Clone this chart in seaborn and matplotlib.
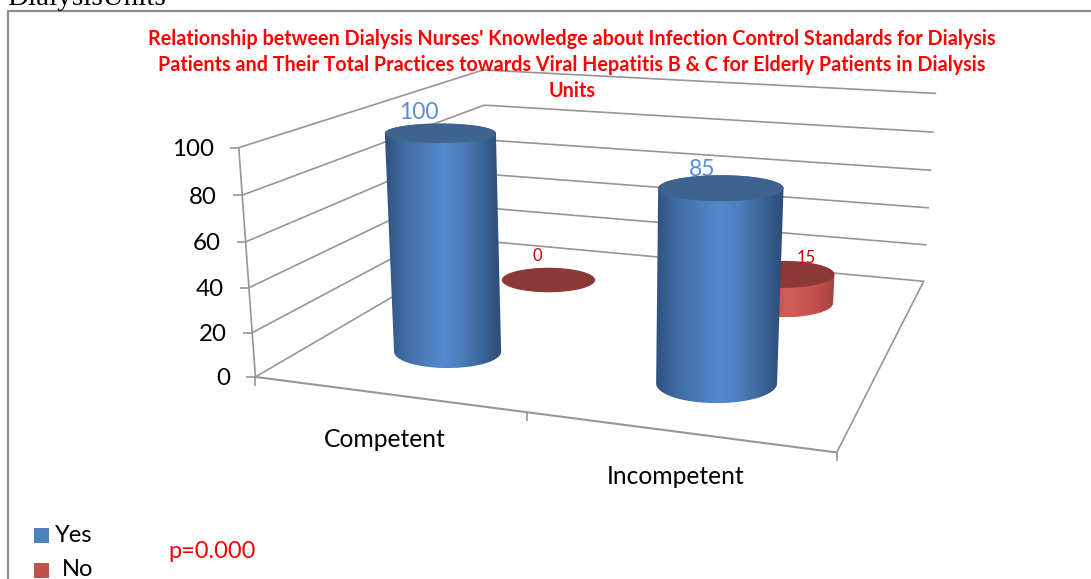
import numpy as np
import pandas as pd
import matplotlib
matplotlib.use("Agg")
import matplotlib.pyplot as plt
from matplotlib.colors import LinearSegmentedColormap
from matplotlib.patches import Rectangle, Polygon, Ellipse
import seaborn as sns

categories = ["Competent", "Incompetent"]
series_names = ["Yes", "No"]
yes_values = [100, 85]
no_values = [0, 15]
value_ticks = [0, 20, 40, 60, 80, 100]
title_lines = ["Relationship between Dialysis Nurses' Knowledge about Infection Control Standards for Dialysis",
               "Patients and Their Total Practices towards Viral Hepatitis B & C for Elderly Patients in Dialysis",
               "Units"]

sns.set_theme(style="white")
plt.rcParams["font.family"] = ["Lato", "DejaVu Sans"]

fig = plt.figure(figsize=(10.91, 5.79), dpi=100)
ax = fig.add_axes([0, 0, 1, 1])
ax.set_xlim(0, 1091)
ax.set_ylim(579, 0)
ax.axis("off")

# camera calibration: box corners (u across, v depth, w value) -> picture position
world = np.array([[0, 0, 0], [0, 0, 100], [1, 0, 0], [0, 1, 0], [0, 1, 100], [1, 1, 0], [1, 1, 100]], float)
image = np.array([[254, 377], [240, 148], [837, 452], [489, 241], [482, 70], [923, 282], [936, 93]], float)
A, b = [], []
for (X, Y, Z), (x, y) in zip(world, image):
    A.append([X, Y, Z, 1, 0, 0, 0, 0, -x*X, -x*Y, -x*Z]); b.append(x)
    A.append([0, 0, 0, 0, X, Y, Z, 1, -y*X, -y*Y, -y*Z]); b.append(y)
p = np.linalg.lstsq(np.array(A), np.array(b), rcond=None)[0]
P = np.append(p, 1).reshape(3, 4)


def proj(u, v, w):
    q = P @ np.array([u, v, w, 1.0])
    return q[0] / q[2], q[1] / q[2]


GRID = "#969696"
rows = []
for t in value_ticks:
    for k, (u, v) in enumerate([(0, 0), (0, 1), (1, 1)]):
        x, y = proj(u, v, t)
        rows.append({"tick": t, "order": k, "px": x, "py": y})
grid = pd.DataFrame(rows)
sns.lineplot(data=grid, x="px", y="py", units="tick", estimator=None, sort=False,
             color=GRID, lw=1.2, ax=ax, legend=False, zorder=1)
ax.set_xlim(0, 1091)
ax.set_ylim(579, 0)
ax.axis("off")


def seg(a, c, lw=1.2, color=GRID):
    ax.plot([a[0], c[0]], [a[1], c[1]], color=color, lw=lw, zorder=1, solid_capstyle="butt")


seg(proj(0, 0, 0), proj(0, 0, 100))
seg(proj(0, 0, 0), proj(1, 0, 0), lw=1.5)
seg(proj(1, 0, 0), proj(1, 1, 0))
for t in value_ticks:
    x, y = proj(0, 0, t)
    seg((x - 9, y), (x, y))
    ax.text(x - 25, y + 2, str(t), ha="right", va="center", fontsize=17.4, color="black")
for u in [0, 0.5, 1]:
    x, y = proj(u, 0, 0)
    seg((x, y), (x, y + 9))

# frame and caption fragment above it
ax.plot([7.5, 7.5, 1091], [579, 11, 11], color="#8c8c8c", lw=1.6, zorder=1)
ax.text(7, 5, "DialysisUnits", family="Liberation Serif", fontsize=21, ha="left", va="baseline", color="black")

for line, y in zip(title_lines, [39, 65, 91]):
    ax.text(572, y, line, ha="center", va="center", color="#ff0000", fontsize=14.2, fontweight="bold", zorder=6)

U_POS = [0.252, 0.752]
V_POS = {"Yes": 0.235, "No": 0.74}
R = 0.105
blue = LinearSegmentedColormap.from_list("b", ["#2f5280", "#3f6da3", "#4c7cb8", "#558ad0", "#4c7db9", "#3a6496", "#2c4c74"])
red = LinearSegmentedColormap.from_list("r", ["#8e3a38", "#b84d4a", "#cc5753", "#d05a56", "#c4524f", "#a5423f"])
TOPS = {"Yes": "#3e638f", "No": "#8c3836"}


def ell(u, v, w):
    cx, cy = proj(u, v, w)
    xa, ya = proj(u - 0.02, v, w)
    xb, yb = proj(u + 0.02, v, w)
    a = R * np.hypot(xb - xa, yb - ya) / 0.04
    r = 0.174 + (cy - 132) * 0.0006
    return cx, cy, a, a * r


def cylinder(u, v, val, name, cmap, z):
    xb, yb, ab, bb = ell(u, v, 0)
    xt, yt, at, bt = ell(u, v, val)
    if val > 0:
        th = np.linspace(0, np.pi, 60)
        low = np.c_[xb - ab * np.cos(th), yb + bb * np.sin(th)]
        up = np.c_[xt + at * np.cos(th), yt - bt * np.sin(th)]
        poly = Polygon(np.r_[low, up], closed=True, transform=ax.transData, fc="none", ec="none", zorder=z)
        ax.add_patch(poly)
        x0, x1 = min(xb - ab, xt - at), max(xb + ab, xt + at)
        im = ax.imshow(np.linspace(0, 1, 256)[None, :], cmap=cmap, extent=(x0, x1, yb + bb, yt - bt),
                       aspect="auto", zorder=z, interpolation="bilinear")
        im.set_clip_path(poly)
    ax.add_patch(Ellipse((xt, yt), 2 * at, 2 * bt, fc=TOPS[name], ec="none", zorder=z + 0.1))


# drawn back to front: the No row stands behind the Yes row
for i, u in enumerate(U_POS):
    cylinder(u, V_POS["No"], no_values[i], "No", red, 3)
for i, u in enumerate(U_POS):
    cylinder(u, V_POS["Yes"], yes_values[i], "Yes", blue, 4 + i)
ax.set_xlim(0, 1091)
ax.set_ylim(579, 0)

yes_offsets = [(-21, -11), (-19, -6)]
no_offsets = [(-11, -11.5), (24, -3)]
for i, u in enumerate(U_POS):
    x, y, a, bb = ell(u, V_POS["Yes"], yes_values[i])
    ax.text(x + yes_offsets[i][0], y - bb + yes_offsets[i][1], str(yes_values[i]), ha="center", va="center",
            color="#558ed5", fontsize=16.5, zorder=2)
    x, y, a, bb = ell(u, V_POS["No"], no_values[i])
    ax.text(x + no_offsets[i][0], y - bb + no_offsets[i][1], str(no_values[i]), ha="center", va="center",
            color="#c00000", fontsize=12, zorder=6)

for i, u in enumerate(U_POS):
    x, y = proj(u, 0, 0)
    ax.text(x + (-3 if i == 0 else -2), y + 45, categories[i], ha="center", va="center", fontsize=17.7, color="black")

ax.add_patch(Rectangle((34, 528), 15, 15, fc="#4f81bd", ec="none"))
ax.add_patch(Rectangle((34, 563), 15, 15, fc="#c0504d", ec="none"))
ax.text(55, 536, series_names[0], ha="left", va="center", fontsize=17, color="black")
ax.text(62, 569, series_names[1], ha="left", va="center", fontsize=17, color="black")
ax.text(168, 552, "p=0.000", ha="left", va="center", fontsize=17, color="#ff0000")

fig.savefig("out.png", dpi=100)
